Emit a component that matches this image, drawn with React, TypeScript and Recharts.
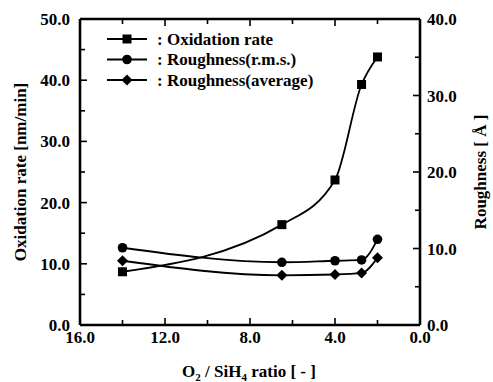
import React from 'react';
import { ComposedChart, Line, XAxis, YAxis, Legend, Label } from 'recharts';

// O2/SiH4 flow ratio for each sample
const ratio = [14.0, 6.5, 4.0, 2.75, 2.0];
// Oxidation rate [nm/min] (left axis)
const oxidationRate = [8.7, 16.4, 23.7, 39.3, 43.8];
// Surface roughness [Å] (right axis)
const roughnessRms = [10.1, 8.2, 8.4, 8.5, 11.2];
const roughnessAvg = [8.4, 6.5, 6.6, 6.8, 8.8];

const xTicks = [0, 2, 4, 6, 8, 10, 12, 14, 16];
const xLabelled = [0, 4, 8, 12, 16];
const leftTicks = [0, 5, 10, 15, 20, 25, 30, 35, 40, 45, 50];
const leftLabelled = [0, 10, 20, 30, 40, 50];
const rightTicks = [0, 5, 10, 15, 20, 25, 30, 35, 40];
const rightLabelled = [0, 10, 20, 30, 40];

const legendItems = [
  { label: ': Oxidation rate', shape: 'square' },
  { label: ': Roughness(r.m.s.)', shape: 'circle' },
  { label: ': Roughness(average)', shape: 'diamond' },
];

const data = ratio.map((r, i) => ({
  ratio: r,
  oxidation: oxidationRate[i],
  rms: roughnessRms[i],
  avg: roughnessAvg[i],
}));

const FONT = '"Liberation Serif", "Times New Roman", serif';
const FS = 17;
const FW = 'bold';
const LINE_W = 1.8;

function Marker({ shape, cx, cy }: { shape: string; cx: number; cy: number }) {
  if (shape === 'square') {
    return <rect x={cx - 4.5} y={cy - 4.5} width={9} height={9} fill="#000" />;
  }
  if (shape === 'circle') {
    return <circle cx={cx} cy={cy} r={4.8} fill="#000" />;
  }
  return (
    <polygon
      points={`${cx},${cy - 5.5} ${cx + 5.5},${cy} ${cx},${cy + 5.5} ${cx - 5.5},${cy}`}
      fill="#000"
    />
  );
}

const dotFor = (shape: string) => (props: any) => {
  const { cx, cy, index } = props;
  if (cx == null || cy == null) return <g key={index} />;
  return <Marker key={`${shape}-${index}`} shape={shape} cx={cx} cy={cy} />;
};

function BottomTick(props: any) {
  const { x, y, payload } = props;
  const major = xLabelled.includes(payload.value);
  return (
    <g>
      <line x1={x} y1={y} x2={x} y2={y - (major ? 7 : 5)} stroke="#000" strokeWidth={1.6} />
      {major && (
        <text x={x} y={y + 18} textAnchor="middle" fontFamily={FONT} fontSize={FS} fontWeight={FW} fill="#000">
          {payload.value.toFixed(1)}
        </text>
      )}
    </g>
  );
}

function TopTick(props: any) {
  const { x, y, payload } = props;
  const major = xLabelled.includes(payload.value);
  return <line x1={x} y1={y} x2={x} y2={y + (major ? 7 : 5)} stroke="#000" strokeWidth={1.6} />;
}

function LeftTick(props: any) {
  const { x, y, payload } = props;
  const major = leftLabelled.includes(payload.value);
  return (
    <g>
      <line x1={x} y1={y} x2={x + (major ? 7 : 5)} y2={y} stroke="#000" strokeWidth={1.6} />
      {major && (
        <text x={x - 10} y={y + 6} textAnchor="end" fontFamily={FONT} fontSize={FS} fontWeight={FW} fill="#000">
          {payload.value.toFixed(1)}
        </text>
      )}
    </g>
  );
}

function RightTick(props: any) {
  const { x, y, payload } = props;
  const major = rightLabelled.includes(payload.value);
  return (
    <g>
      <line x1={x} y1={y} x2={x - (major ? 7 : 5)} y2={y} stroke="#000" strokeWidth={1.6} />
      {major && (
        <text x={x + 7} y={y + 6} textAnchor="start" fontFamily={FONT} fontSize={FS} fontWeight={FW} fill="#000">
          {payload.value.toFixed(1)}
        </text>
      )}
    </g>
  );
}

function LegendBox() {
  return (
    <svg width={230} height={66} style={{ display: 'block', overflow: 'visible' }}>
      {legendItems.map((item, i) => {
        const cy = 11 + i * 20.5;
        return (
          <g key={item.label}>
            <line x1={7} y1={cy} x2={47} y2={cy} stroke="#000" strokeWidth={LINE_W} />
            <Marker shape={item.shape} cx={27} cy={cy} />
            <text x={57} y={cy + 5.5} fontFamily={FONT} fontSize={FS} fontWeight={FW} fill="#000">
              {item.label}
            </text>
          </g>
        );
      })}
    </svg>
  );
}

export default function App() {
  return (
    <div style={{ position: 'absolute', left: 0, top: 0, background: '#fff' }}>
      <ComposedChart
        width={493}
        height={382}
        data={data}
        margin={{ top: 9, right: 13, bottom: 17, left: 20 }}
      >
        <XAxis
          xAxisId="bottom"
          dataKey="ratio"
          type="number"
          domain={[0, 16]}
          reversed
          ticks={xTicks}
          interval={0}
          height={40}
          tickSize={0}
          tickMargin={0}
          tickLine={false}
          tick={<BottomTick />}
          axisLine={{ stroke: '#000', strokeWidth: 2.6 }}
        >
          <Label
            content={(p: any) => {
              const vb = p.viewBox;
              const cx = vb.x + vb.width / 2;
              return (
                <text x={cx - 1} y={377} textAnchor="middle" fontFamily={FONT} fontSize={FS} fontWeight={FW} fill="#000">
                  O
                  <tspan fontSize={11} dy={4}>2</tspan>
                  <tspan dy={-4}> / SiH</tspan>
                  <tspan fontSize={11} dy={4}>4</tspan>
                  <tspan dy={-4}> ratio [ - ]</tspan>
                </text>
              );
            }}
          />
        </XAxis>
        <XAxis
          xAxisId="top"
          orientation="top"
          dataKey="ratio"
          type="number"
          domain={[0, 16]}
          reversed
          ticks={xTicks}
          interval={0}
          height={10}
          tickSize={0}
          tickMargin={0}
          tickLine={false}
          tick={<TopTick />}
          axisLine={{ stroke: '#000', strokeWidth: 2.6 }}
        />
        <YAxis
          yAxisId="left"
          type="number"
          domain={[0, 50]}
          ticks={leftTicks}
          interval={0}
          width={60}
          tickSize={0}
          tickMargin={0}
          tickLine={false}
          tick={<LeftTick />}
          axisLine={{ stroke: '#000', strokeWidth: 2.6 }}
        >
          <Label
            content={(p: any) => {
              const vb = p.viewBox;
              const cy = vb.y + vb.height / 2;
              return (
                <text
                  x={20}
                  y={cy}
                  transform={`rotate(-90, 20, ${cy})`}
                  textAnchor="middle"
                  dominantBaseline="central"
                  fontFamily={FONT}
                  fontSize={FS}
                  fontWeight={FW}
                  fill="#000"
                >
                  Oxidation rate [nm/min]
                </text>
              );
            }}
          />
        </YAxis>
        <YAxis
          yAxisId="right"
          orientation="right"
          type="number"
          domain={[0, 40]}
          ticks={rightTicks}
          interval={0}
          width={60}
          tickSize={0}
          tickMargin={0}
          tickLine={false}
          tick={<RightTick />}
          axisLine={{ stroke: '#000', strokeWidth: 2.6 }}
        >
          <Label
            content={(p: any) => {
              const vb = p.viewBox;
              const cy = vb.y + vb.height / 2;
              return (
                <text
                  x={480}
                  y={cy}
                  transform={`rotate(-90, 480, ${cy})`}
                  textAnchor="middle"
                  dominantBaseline="central"
                  fontFamily={FONT}
                  fontSize={FS}
                  fontWeight={FW}
                  fill="#000"
                >
                  Roughness [ Å ]
                </text>
              );
            }}
          />
        </YAxis>
        <Legend
          layout="vertical"
          align="center"
          verticalAlign="middle"
          wrapperStyle={{ position: 'absolute', left: 100, top: 28, width: 230 }}
          content={() => <LegendBox />}
        />
        <Line
          xAxisId="bottom"
          yAxisId="left"
          dataKey="oxidation"
          type="monotone"
          stroke="#000"
          strokeWidth={LINE_W}
          dot={dotFor('square')}
          isAnimationActive={false}
        />
        <Line
          xAxisId="bottom"
          yAxisId="right"
          dataKey="rms"
          type="monotone"
          stroke="#000"
          strokeWidth={LINE_W}
          dot={dotFor('circle')}
          isAnimationActive={false}
        />
        <Line
          xAxisId="bottom"
          yAxisId="right"
          dataKey="avg"
          type="monotone"
          stroke="#000"
          strokeWidth={LINE_W}
          dot={dotFor('diamond')}
          isAnimationActive={false}
        />
      </ComposedChart>
    </div>
  );
}
